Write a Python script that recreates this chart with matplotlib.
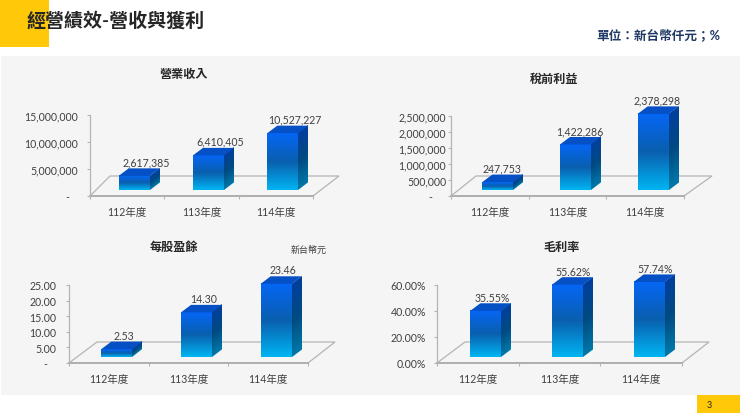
import matplotlib
matplotlib.use("Agg")
import matplotlib.pyplot as plt
from matplotlib.colors import LinearSegmentedColormap
from matplotlib.patches import Polygon, Rectangle
from matplotlib.transforms import Affine2D, IdentityTransform
import numpy as np

plt.rcParams['font.family'] = ['Lato', 'Noto Sans CJK TC', 'DejaVu Sans']

W, H = 740, 414
years = ['112年度', '113年度', '114年度']

revenue = [2617385, 6410405, 10527227]
revenue_labels = ['2,617,385', '6,410,405', '10,527,227']
revenue_ticks = [0, 5000000, 10000000, 15000000]
revenue_ticklabels = ['-   ', '5,000,000', '10,000,000', '15,000,000']

pretax = [247753, 1422286, 2378298]
pretax_labels = ['247,753', '1,422,286', '2,378,298']
pretax_ticks = [0, 500000, 1000000, 1500000, 2000000, 2500000]
pretax_ticklabels = ['-     ', '500,000', '1,000,000', '1,500,000', '2,000,000', '2,500,000']

eps = [2.53, 14.30, 23.46]
eps_labels = ['2.53', '14.30', '23.46']
eps_ticks = [0, 5, 10, 15, 20, 25]
eps_ticklabels = ['-   ', '5.00', '10.00', '15.00', '20.00', '25.00']

margin = [35.55, 55.62, 57.74]
margin_labels = ['35.55%', '55.62%', '57.74%']
margin_ticks = [0, 20, 40, 60]
margin_ticklabels = ['0.00%', '20.00%', '40.00%', '60.00%']

front_cmap = LinearSegmentedColormap.from_list('front', ['#00b4f2', '#0a5fae', '#0566f5'])
side_cmap = LinearSegmentedColormap.from_list('side', ['#0078a8', '#004a82', '#003f9e'])
grad = np.linspace(0, 1, 64).reshape(-1, 1)
AXIS = '#b4b4b4'
TXT = '#404040'

fig = plt.figure(figsize=(W / 100, H / 100), dpi=100, facecolor='white')

# page background, pixel coords
bg = fig.add_axes([0, 0, 1, 1], zorder=-1)
bg.set_xlim(0, W)
bg.set_ylim(H, 0)
bg.axis('off')
bg.add_patch(Rectangle((1, 57), W, 339, fc='#f5f5f5', ec='none'))
bg.add_patch(Rectangle((0, 0), 49, 48, fc='#ffc90a', ec='none'))
bg.add_patch(Rectangle((697, 396), 43, 18, fc='#ffc90a', ec='none'))
bg.text(27, 20, '經營績效-營收與獲利', fontsize=13.7, fontweight='bold', color='#262626', va='center')
# full-width colon and semicolon
bg.text(720, 35, '單位\uff1a新台幣仟元\uff1b%', fontsize=9.1, fontweight='bold', color='#1f3864', va='center', ha='right')
bg.text(709, 406, '3', fontsize=6.5, color='#262626', va='center', ha='center')
bg.text(309, 250, '新台幣元', fontsize=6.5, color=TXT, va='center', ha='center')


def chart(box, back, values, labels, ticks, ticklabels, title, title_xy, pad, bar_dx, label_dx, label_dy=14):
    x0, x1, y_top, y_zero = box
    ax = fig.add_axes([x0 / W, 1 - y_zero / H, (x1 - x0) / W, (y_zero - y_top) / H])
    ax.patch.set_alpha(0)
    ax.set_xlim(0, 3)
    ax.set_ylim(0, ticks[-1])
    for s in ['top', 'right', 'bottom']:
        ax.spines[s].set_visible(False)
    ax.spines['left'].set_color(AXIS)
    ax.spines['left'].set_linewidth(0.9)

    ax.set_yticks(ticks)
    ax.set_yticklabels(ticklabels, fontsize=7.6, color=TXT)
    ax.tick_params(axis='y', length=2, width=0.8, color=AXIS, pad=pad)
    ax.set_xticks([0.5, 1.5, 2.5])
    ax.set_xticklabels(years, fontsize=7.6, color=TXT)
    ax.tick_params(axis='x', length=0, pad=7)
    ax.set_xticks([0, 1, 2, 3], minor=True)
    ax.tick_params(axis='x', which='minor', length=2, width=0.8, color=AXIS)

    # floor
    bl, br, by = back
    fy0 = H - y_zero
    fy1 = H - by
    ax.add_patch(Polygon([(x0, fy0), (bl, fy1), (br, fy1), (x1, fy0)], closed=False, fill=False,
                         ec=AXIS, lw=0.9, transform=IdentityTransform(), clip_on=False, zorder=1))
    ax.plot([0, 3], [0, 0], color='#a8a8a8', lw=1.3, clip_on=False, zorder=1)

    for i, v in enumerate(values):
        # bar sits a bit inside the floor
        cx = ax.transData.transform((i + 0.5, 0))[0] + bar_dx
        bw, ddx, ddy, lift = 31, 10, 7.5, 6
        base = ax.transData.transform((0, 0))[1] + lift
        top = ax.transData.transform((0, v))[1] + lift
        xl, xr = cx - bw / 2, cx + bw / 2
        h = top - base

        front = Affine2D.from_values(bw, 0, 0, h, xl, base)
        ax.imshow(grad, cmap=front_cmap, extent=(0, 1, 0, 1), origin='lower', aspect='auto',
                  transform=front, clip_on=False, zorder=4, interpolation='bilinear')
        side = Affine2D.from_values(ddx, ddy, 0, h, xr, base)
        ax.imshow(grad, cmap=side_cmap, extent=(0, 1, 0, 1), origin='lower', aspect='auto',
                  transform=side, clip_on=False, zorder=4, interpolation='bilinear')
        ax.add_patch(Polygon([(xl, top), (xr, top), (xr + ddx, top + ddy), (xl + ddx, top + ddy)],
                             fc='#0450c4', ec='none', transform=IdentityTransform(), clip_on=False, zorder=4))
        ax.text(cx + label_dx, top + label_dy, labels[i], fontsize=7.6, color=TXT, ha='center', va='center',
                transform=IdentityTransform(), zorder=6)

    ax.set_xlim(0, 3)
    ax.set_ylim(0, ticks[-1])
    bg.text(title_xy[0], title_xy[1], title, fontsize=8.7, fontweight='bold', color='#262626', ha='center', va='center')


chart((90, 313, 116, 197), (110, 339, 177), revenue, revenue_labels, revenue_ticks, revenue_ticklabels,
      '營業收入', (184, 74), 6.5, 7, 12)
chart((451, 684, 117, 197), (476, 712, 177), pretax, pretax_labels, pretax_ticks, pretax_ticklabels,
      '稅前利益', (554, 79), 1.5, 8, 4)
chart((69, 308, 286, 364), (97, 335, 343), eps, eps_labels, eps_ticks, eps_ticklabels,
      '每股盈餘', (174, 247), 7, 8, 7)
chart((437, 682, 286, 364), (465, 709, 343), margin, margin_labels, margin_ticks, margin_ticklabels,
      '毛利率', (562, 247), 6, 8, 6, 13)

fig.savefig('out.png', dpi=100)
